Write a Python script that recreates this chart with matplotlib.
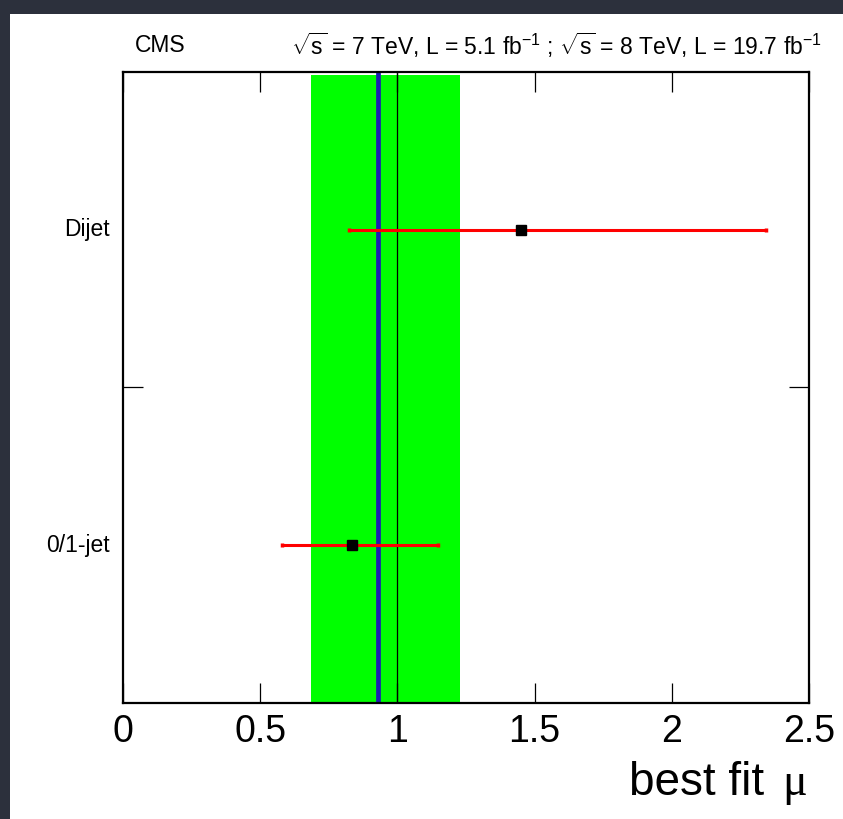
import matplotlib
matplotlib.use('Agg')
import matplotlib.pyplot as plt

plt.rcParams['font.family'] = ['Liberation Sans', 'DejaVu Sans']
plt.rcParams['mathtext.fontset'] = 'custom'
plt.rcParams['mathtext.rm'] = 'Liberation Sans'

# channel results
channels = ['0/1-jet', 'Dijet']
mu_fit = [0.833, 1.449]
mu_lo = [0.579, 0.824]
mu_hi = [1.147, 2.343]

# combined result
mu_comb = 0.93
band_lo = 0.685
band_hi = 1.228

fig = plt.figure(figsize=(8.43, 8.19), dpi=100)
fig.patch.set_facecolor('#2c303c')

# white canvas behind the plot
bg = fig.add_axes([10 / 843, 0, 1 - 10 / 843, (819 - 14) / 819], zorder=-1)
bg.set_facecolor('white')
bg.set_xticks([])
bg.set_yticks([])
for s in bg.spines.values():
    s.set_visible(False)

ax = fig.add_axes([123 / 843, 1 - 703 / 819, (809 - 123) / 843, (703 - 72) / 819])

ax.axvspan(band_lo, band_hi, ymin=0, ymax=0.995, color='#00ff00', lw=0, zorder=1)
ax.axvline(mu_comb, color='#1c1cb4', lw=3.4, zorder=2)
ax.axvline(1.0, color='black', lw=0.9, zorder=3)

ypos = [0.5, 1.5]
for y, m, lo, hi in zip(ypos, mu_fit, mu_lo, mu_hi):
    ax.errorbar([m], [y], xerr=[[m - lo], [hi - m]], fmt='s', color='black', ms=6.7,
                ecolor='#ff0000', elinewidth=2.2, capsize=1.5, capthick=2.5, zorder=5)

ax.set_xlim(0, 2.5)
ax.set_ylim(0, 2)
ax.set_xticks([0, 0.5, 1, 1.5, 2, 2.5])
ax.set_xticklabels(['0', '0.5', '1', '1.5', '2', '2.5'], fontsize=27)
ax.set_yticks([1.0])
ax.set_yticklabels([])
ax.tick_params(axis='both', direction='in', length=14.5, width=0.9, top=True, right=True, pad=8)
for s in ax.spines.values():
    s.set_linewidth(1.6)
ax.set_facecolor('white')

for y, name in zip(ypos, channels):
    ax.text(-0.02, y, name, transform=ax.get_yaxis_transform(), ha='right', va='center', fontsize=16.5)

# x axis title: sans text with a serif mu
fig.text(807 / 843, 1 - 795 / 819, 'μ', fontsize=33, family='Liberation Serif', ha='right', va='baseline')
fig.text(764 / 843, 1 - 795 / 819, 'best fit', fontsize=33, ha='right', va='baseline')

fig.text(135 / 843, 1 - 45 / 819, 'CMS', fontsize=16.5, ha='left', va='center')
fig.text(822 / 843, 1 - 45 / 819,
         r'$\sqrt{\mathrm{s}}$ = 7 TeV, L = 5.1 fb$^{-1}$ ; $\sqrt{\mathrm{s}}$ = 8 TeV, L = 19.7 fb$^{-1}$',
         fontsize=16.5, ha='right', va='center')

fig.savefig('out.png', dpi=100, facecolor=fig.get_facecolor())
